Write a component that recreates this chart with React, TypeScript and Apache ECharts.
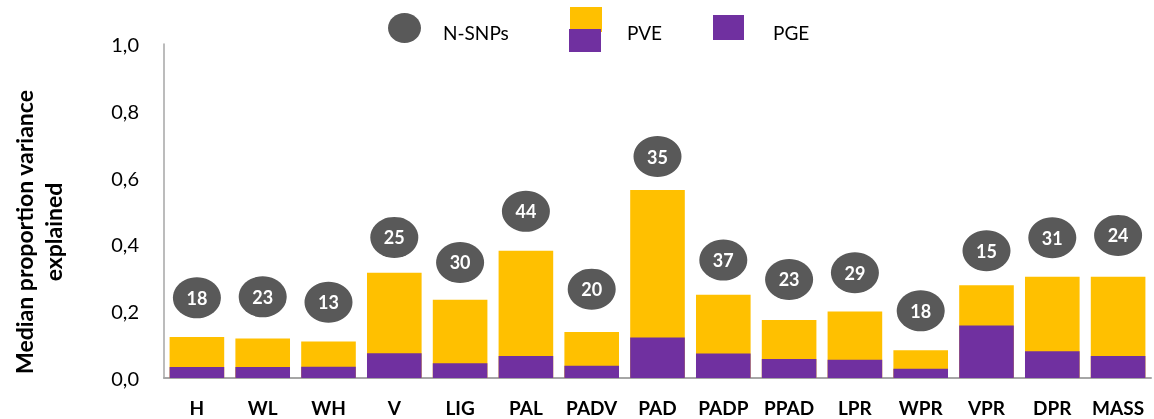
import React, { useEffect, useRef } from "react";
import * as echarts from "echarts";

const categories = ["H", "WL", "WH", "V", "LIG", "PAL", "PADV", "PAD", "PADP", "PPAD", "LPR", "WPR", "VPR", "DPR", "MASS"];
const pve = [0.123, 0.118, 0.109, 0.315, 0.234, 0.381, 0.138, 0.563, 0.249, 0.174, 0.199, 0.083, 0.278, 0.303, 0.303];
const pge = [0.033, 0.033, 0.034, 0.074, 0.044, 0.066, 0.037, 0.121, 0.073, 0.057, 0.055, 0.028, 0.157, 0.080, 0.066];
const nSnps = [18, 23, 13, 25, 30, 44, 20, 35, 37, 23, 29, 18, 15, 31, 24];
// height (in axis units) at which each N-SNPs marker sits
const nSnpsMarkerY = [0.240, 0.243, 0.227, 0.421, 0.346, 0.499, 0.266, 0.663, 0.353, 0.295, 0.315, 0.201, 0.381, 0.420, 0.427];
const yTicks = { min: 0, max: 1, interval: 0.2 };

const YELLOW = "#FFC000";
const PURPLE = "#7030A0";
const GRAY = "#595959";
const FONT = "Lato";

export default function App() {
  const ref = useRef<HTMLDivElement>(null);
  useEffect(() => {
    if (!ref.current) return;
    const chart = echarts.init(ref.current, null, { renderer: "svg" });
    chart.setOption({
      animation: false,
      textStyle: { fontFamily: FONT },
      grid: { left: 164, right: 3, top: 44, bottom: 41 },
      xAxis: {
        type: "category",
        data: categories,
        axisTick: { show: false },
        axisLine: { show: true, lineStyle: { color: "#A6A6A6", width: 2 } },
        axisLabel: { color: "#000", fontSize: 19, fontWeight: "bold", fontFamily: FONT, margin: 20, interval: 0, lineHeight: 19 },
      },
      yAxis: {
        type: "value",
        min: yTicks.min,
        max: yTicks.max,
        interval: yTicks.interval,
        splitLine: { show: false },
        axisTick: { show: false },
        axisLine: { show: true, lineStyle: { color: "#A6A6A6", width: 1.5 } },
        axisLabel: {
          color: "#000",
          fontSize: 20,
          fontFamily: FONT,
          margin: 25,
          formatter: (v: number) => v.toFixed(1).replace(".", ","),
        },
      },
      series: [
        {
          name: "PVE",
          type: "bar",
          data: pve,
          barWidth: "83%",
          itemStyle: { color: YELLOW },
        },
        {
          name: "PGE",
          type: "bar",
          data: pge,
          barWidth: "83%",
          barGap: "-100%",
          itemStyle: { color: PURPLE },
        },
        {
          name: "N-SNPs",
          type: "scatter",
          data: nSnpsMarkerY.map((y, i) => [categories[i], y]),
          symbol: "circle",
          symbolSize: [48, 41],
          itemStyle: { color: GRAY, opacity: 1 },
          z: 5,
          label: {
            show: true,
            position: "inside",
            color: "#fff",
            fontSize: 18,
            fontWeight: "bold",
            fontFamily: FONT,
            formatter: (p: any) => String(nSnps[p.dataIndex]),
          },
        },
      ],
      graphic: [
        // legend
        { type: "ellipse", shape: { cx: 404.5, cy: 28, rx: 16.5, ry: 15 }, style: { fill: GRAY } },
        { type: "text", x: 443, y: 32, style: { text: "N-SNPs", fill: "#000", fontSize: 19, fontFamily: FONT, textVerticalAlign: "middle" } },
        { type: "rect", shape: { x: 570, y: 7, width: 32, height: 25 }, style: { fill: YELLOW } },
        { type: "rect", shape: { x: 569, y: 29, width: 32, height: 23 }, style: { fill: PURPLE } },
        { type: "text", x: 627, y: 32, style: { text: "PVE", fill: "#000", fontSize: 19, fontFamily: FONT, textVerticalAlign: "middle" } },
        { type: "rect", shape: { x: 713, y: 15, width: 31, height: 25 }, style: { fill: PURPLE } },
        { type: "text", x: 773, y: 32, style: { text: "PGE", fill: "#000", fontSize: 19, fontFamily: FONT, textVerticalAlign: "middle" } },
        // y-axis title
        {
          type: "text",
          x: 38,
          y: 232,
          rotation: Math.PI / 2,
          style: {
            text: "Median proportion variance\nexplained",
            fill: "#000",
            fontSize: 23,
            fontWeight: "bold",
            fontFamily: FONT,
            textAlign: "center",
            textVerticalAlign: "middle",
            lineHeight: 29,
          },
        },
      ],
    });
    return () => chart.dispose();
  }, []);
  return <div ref={ref} style={{ position: "fixed", left: 0, top: 0, width: 1154, height: 419 }} />;
}
